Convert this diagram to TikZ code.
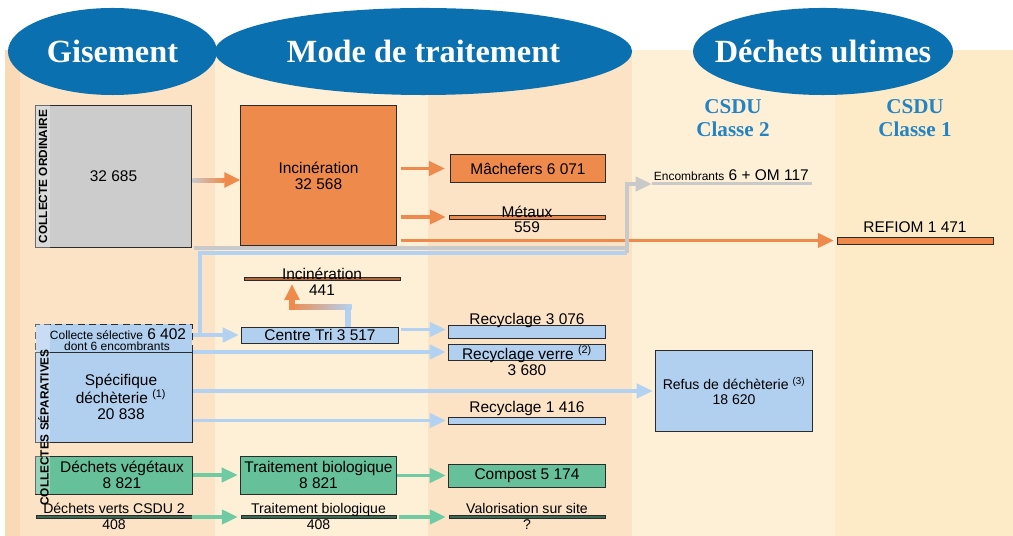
\documentclass[tikz,border=0pt]{standalone}
\usepackage{fontspec}
\setsansfont{Liberation Sans}
\newfontfamily\headfont{Liberation Serif}
\usepackage{tikz}
\usetikzlibrary{arrows.meta,positioning,shapes.geometric,calc}
\usepackage{xcolor}
\definecolor{headBlue}{HTML}{0B70AF}
\definecolor{csduBlue}{HTML}{2483C3}
\definecolor{bandPeach}{HTML}{FCE3C6}
\definecolor{bandPeachDark}{HTML}{FADAB6}
\definecolor{bandCream}{HTML}{FEF0D7}
\definecolor{bandYellow}{HTML}{FDEBC8}
\definecolor{incOrange}{HTML}{EE8A4B}
\definecolor{omGray}{HTML}{CCCCCC}
\definecolor{lineGray}{HTML}{C9C9C9}
\definecolor{selBlue}{HTML}{B1CFEE}
\definecolor{lineBlue}{HTML}{B3D2F1}
\definecolor{vegGreen}{HTML}{66C09A}
\definecolor{lineGreen}{HTML}{70CBA3}
\definecolor{edgeDark}{HTML}{2B2B2B}

\begin{document}
\begin{tikzpicture}[
  x=0.025cm, y=-0.025cm,
  font=\sffamily\fontsize{11}{11.5}\selectfont,
  >={Triangle[length=0.4cm,width=0.36cm]},
  box/.style={draw=edgeDark, line width=0.7pt, inner sep=0pt, align=center, minimum width=3.9cm},
  bar/.style={draw=edgeDark, line width=0.6pt, inner sep=0pt, minimum width=3.9cm},
  lbl/.style={inner sep=0pt, align=center},
  small/.style={font=\sffamily\fontsize{10}{11}\selectfont},
  tiny/.style={font=\sffamily\fontsize{8.5}{9}\selectfont},
  strip/.style={inner sep=0pt, rotate=90, font=\sffamily\bfseries\fontsize{8.4}{8.4}\selectfont},
  head/.style={ellipse, fill=headBlue, text=white, inner sep=0pt, minimum height=2.175cm,
    font=\headfont\bfseries\fontsize{23}{26}\selectfont},
  csdu/.style={align=center, text=csduBlue, font=\headfont\bfseries\fontsize{15}{16}\selectfont},
  flow/.style={->, line width=2.4pt, shorten >=0.07cm},
  wire/.style={line width=2.2pt}
]

  \useasboundingbox (0,0) rectangle (1013,536);

  % Column bands
  \fill[bandPeach] (5,50) rectangle (215,536);
  \fill[bandPeachDark] (5,50) rectangle (20,536);
  \fill[bandCream] (215,50) rectangle (428,536);
  \fill[bandPeach] (428,50) rectangle (632,536);
  \fill[bandCream] (632,50) rectangle (835,536);
  \fill[bandYellow] (835,50) rectangle (1013,536);

  % Headers
  \node[head, minimum width=5.225cm] (gis) at (112.5,51.5) {Gisement};
  \node[head, minimum width=10.425cm] (mode) at (423.5,51.5) {Mode de traitement};
  \node[head, minimum width=6.5cm] (ult) at (823,51.5) {\makebox[0pt]{Déchets ultimes}};
  \node[csdu] (cls2) at (733,118) {CSDU\\Classe 2};
  \node[csdu] (cls1) at (915,118) {CSDU\\Classe 1};

  % ----------------------------------------------------
  % Collecte ordinaire
  % ----------------------------------------------------
  \node[box, fill=omGray, minimum width=3.875cm, minimum height=3.525cm] (om) at (113.5,176.5) {32 685};
  \fill[white, opacity=0.3] (om.north west) rectangle ($(om.south west)+(15,0)$);
  \node[strip] (ordT) at ($(om.west)+(7.5,0)$) {COLLECTE ORDINAIRE};

  \node[box, fill=incOrange, minimum width=3.875cm, minimum height=3.475cm] (inc) at (318.5,175.5) {Incinération\\32 568};
  \node[box, fill=incOrange, minimum width=3.85cm, minimum height=0.675cm] (mach) at (528,168.5) {Mâchefers 6 071};

  \node[bar, fill=incOrange, minimum height=0.1cm] (metaux) at (527,217) {};
  \node[lbl, anchor=base] (metauxT) at ($(metaux.center)+(0,1)$) {Métaux};
  \node[lbl, below=0.06cm of metaux] (metauxN) {559};

  \node[bar, fill=incOrange, minimum height=0.175cm] (refiom) at (915,240.5) {};
  \node[lbl, above=0.1cm of refiom] (refiomT) {REFIOM 1 471};

  \node[fill=lineGray, inner sep=0pt, minimum width=4cm, minimum height=0.075cm] (encb) at (732,184) {};
  \node[lbl, anchor=base west] (encT) at ($(encb.west)+(2,-3)$) {{\fontsize{8.5}{9}\selectfont Encombrants} 6 + OM 117};

  % ----------------------------------------------------
  % Collectes separatives
  % ----------------------------------------------------
  \node[bar, fill=incOrange!75!black, minimum height=0.075cm] (inc441) at (322,279) {};
  \node[lbl, anchor=base] (inc441T) at ($(inc441.center)+(0,1)$) {Incinération};
  \node[lbl, below=0.09cm of inc441] (inc441N) {441};

  \node[box, fill=selBlue, minimum height=0.4cm] (tri) at (320,335) {Centre Tri 3 517};

  \node[box, fill=selBlue, minimum height=0.325cm] (rec1) at (527,331.5) {};
  \node[lbl, anchor=base] (rec1T) at (rec1.north) {Recyclage 3 076};

  \node[box, fill=selBlue, minimum height=0.4cm] (verre) at (527,352) {};
  \node[lbl, anchor=base] (verreT) at ($(verre.south)+(0,-1)$) {Recyclage verre \textsuperscript{(2)}};
  \node[lbl, below=0.1cm of verre] (verreN) {3 680};

  \node[box, fill=selBlue, minimum height=0.175cm] (rec2) at (527,420.5) {};
  \node[lbl, anchor=base] (rec2T) at ($(rec2.north)+(0,-4)$) {Recyclage 1 416};

  \node[box, fill=selBlue, minimum height=2cm, small] (refus) at (734,391) {Refus de déchèterie \textsuperscript{(3)}\\18 620};

  \node[box, fill=selBlue, dashed, dash pattern=on 5pt off 3pt, minimum height=0.725cm] (cs) at (114,338.5) {};
  \node[lbl, anchor=base] (csT) at (118,340) {{\fontsize{8.5}{9}\selectfont Collecte sélective} 6 402};
  \node[lbl, tiny, anchor=base] (csN) at (117,351) {dont 6 encombrants};

  \node[box, fill=selBlue, minimum height=2.225cm] (spec) at (114,397.5) {};
  \node[lbl] (specT) at (121,397) {Spécifique\\déchèterie \textsuperscript{(1)}\\20 838};

  \node[box, fill=vegGreen, minimum height=0.95cm] (veg) at (114,475) {};
  \node[lbl] (vegT) at (122,475) {Déchets végétaux\\8 821};
  \node[box, fill=vegGreen, minimum width=3.875cm, minimum height=0.95cm] (bio) at (318.5,475) {Traitement biologique\\8 821};
  \node[box, fill=vegGreen, minimum height=0.575cm] (compost) at (527,475.5) {Compost 5 174};

  \node[bar, fill=vegGreen!55!black, minimum height=0.075cm] (verts) at (114,517) {};
  \node[lbl, small, anchor=base] (vertsT) at ($(verts.north)+(0,-2)$) {Déchets verts CSDU 2};
  \node[lbl, small, below=0.01cm of verts] (vertsN) {408};
  \node[bar, fill=vegGreen!55!black, minimum width=3.875cm, minimum height=0.075cm] (bio2) at (318.5,517) {};
  \node[lbl, small, anchor=base] (bio2T) at ($(bio2.north)+(0,-2)$) {Traitement biologique};
  \node[lbl, small, below=0.01cm of bio2] (bio2N) {408};
  \node[bar, fill=vegGreen!55!black, minimum height=0.075cm] (valo) at (527,517) {};
  \node[lbl, small, anchor=base] (valoT) at ($(valo.north)+(0,-2)$) {Valorisation sur site};
  \node[lbl, small, below=0.01cm of valo] (valoN) {?};

  \fill[white, opacity=0.3] (cs.north west) rectangle ($(spec.south west)+(15,0)$);
  \fill[white, opacity=0.3] (veg.north west) rectangle ($(veg.south west)+(15,0)$);
  \node[strip] (sepT) at (43.5,427.5) {COLLECTES SÉPARATIVES};

  % ----------------------------------------------------
  % Flows
  % ----------------------------------------------------
  \shade[left color=lineGray, right color=incOrange] ($(om.east)+(1,2)$) rectangle ($(inc.west)+(-16,7)$);
  \draw[flow, incOrange, line width=3pt, shorten >=0pt] ($(inc.west)+(-17,4.5)$) -- ($(inc.west)+(0,4.5)$);

  \draw[flow, incOrange, shorten >=0.14cm] ($(inc.east |- mach.west)+(4,0)$) -- (mach.west);
  \draw[flow, incOrange] ($(inc.east |- metaux.west)+(4,0)$) -- (metaux.west);
  \draw[flow, incOrange] ($(inc.east |- refiom.west)+(4,0)$) -- (refiom.west);

  \coordinate (jn) at (627,253);
  \coordinate (bk) at (200,253);
  \draw[wire, lineBlue] (cs.east |- tri.west) -| (bk) -- (jn);
  \draw[wire, lineGray] (om.south east) ++(2,0.5) -| (jn);
  \draw[flow, lineGray, shorten >=0pt] (jn) |- (encb.west);

  \draw[flow, lineBlue] (cs.east |- tri.west) -- (tri.west);
  \draw[flow, lineBlue] ($(tri.east |- rec1.west)+(2,-2)$) -- ($(rec1.west)+(0,-2)$);
  \draw[lineBlue, line width=4.5pt] ($(tri.north)+(28,0)$) -- ++(0,-20);
  \shade[left color=incOrange, right color=lineBlue] ($(tri.north)+(-31,-22.5)$) rectangle ($(tri.north)+(31.5,-17)$);
  \draw[flow, incOrange, line width=4.5pt, shorten >=0pt] ($(tri.north)+(-28,-17)$) -- ($(inc441.south)+(-30,3)$);

  \draw[flow, lineBlue] (spec.east |- verre.west) -- (verre.west);
  \draw[flow, lineBlue] (spec.east |- refus.west) -- (refus.west);
  \draw[flow, lineBlue] (spec.east |- rec2.west) -- (rec2.west);

  \draw[flow, lineGreen] (veg) -- (bio);
  \draw[flow, lineGreen] (bio.east |- compost.west) -- (compost.west);
  \draw[flow, lineGreen] (verts.east) -- (bio2.west);
  \draw[flow, lineGreen] ($(bio2.east)+(3,0)$) -- (valo.west);

\end{tikzpicture}
\end{document}
